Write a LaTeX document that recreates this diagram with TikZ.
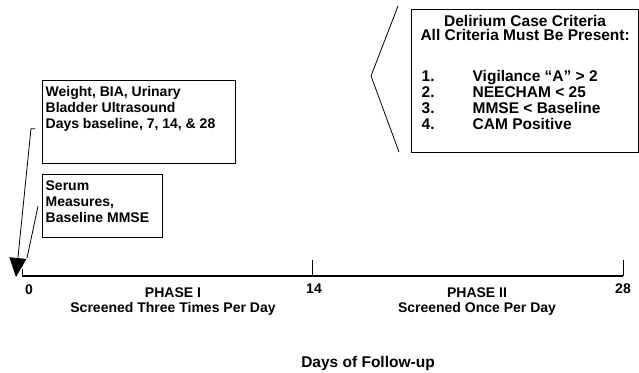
\documentclass[tikz,border=0pt]{standalone}
\usepackage{fontspec}
\setmainfont{Liberation Sans}
\usetikzlibrary{arrows.meta}
\tikzset{infobox/.style={draw=black,line width=1.3pt,anchor=north west,inner xsep=3pt,inner ysep=6pt,
  font=\bfseries\fontsize{14}{16}\selectfont},
 lbl/.style={font=\bfseries\fontsize{14}{16}\selectfont,inner sep=0pt},
 arrow/.style={-{Triangle[length=19pt,width=17pt]},line width=0.8pt},
 tick/.style={line width=0.8pt}}

\begin{document}
\begin{tikzpicture}[x=1pt,y=-1pt]
 \useasboundingbox (0,0) rectangle (639,372);
 \node[infobox] (weight) at (42,80) {\parbox[t][71pt][t]{187pt}{Weight, BIA, Urinary\\Bladder Ultrasound\\Days baseline, 7, 14, \& 28}};
 \node[infobox] (serum) at (42,174) {\parbox[t][51pt][t]{114pt}{Serum\\Measures,\\Baseline MMSE}};
 \node[infobox,font=\bfseries\fontsize{15.5}{14.5}\selectfont] (delir) at (411,8.5) {\parbox[t][131.5pt][t]{221pt}{\centering
   Delirium Case Criteria\\All Criteria Must Be Present:\par
   \vspace{25pt}\raggedright\fontsize{15.5}{16}\selectfont
   \hspace*{7pt}\makebox[51pt][l]{1.}Vigilance “A” > 2\\
   \hspace*{7pt}\makebox[51pt][l]{2.}NEECHAM < 25\\
   \hspace*{7pt}\makebox[51pt][l]{3.}MMSE < Baseline\\
   \hspace*{7pt}\makebox[51pt][l]{4.}CAM Positive}};
 \draw[tick] ([shift={(-13,-2.5)}]delir.north west) -- ([shift={(-40,67.5)}]delir.north west)
   -- ([shift={(-12,143.5)}]delir.north west);
 % time line
 \coordinate (start) at (16,277);
 \coordinate (end) at (623,276);
 \draw[line width=1.3pt] (22,276) -- (end);
 \draw[tick] (22,276) -- (22,269);
 \draw[tick] (312,276) -- (312,260);
 \draw[tick] (end) -- ++(0,-16);
 \draw[arrow] ([shift={(-7,6.5)}]weight.west) -- ++(-4,0) -- (start);
 \draw[tick] ([xshift=-4]serum.west) -- ([shift={(11,-19)}]start);
 \node[lbl] (d0) at (29,290) {0};
 \node[lbl] (d14) at (314,289) {14};
 \node[lbl] (d28) at (623,289) {28};
 \node[lbl] (ph1) at (173,293) {PHASE I};
 \node[lbl] (scr1) at (173,309) {Screened Three Times Per Day};
 \node[lbl] (ph2) at (477,293) {PHASE II};
 \node[lbl] (scr2) at (477,309) {Screened Once Per Day};
 \node[lbl,font=\bfseries\fontsize{15.5}{16}\selectfont] (title) at (368,363) {Days of Follow-up};
\end{tikzpicture}
\end{document}
